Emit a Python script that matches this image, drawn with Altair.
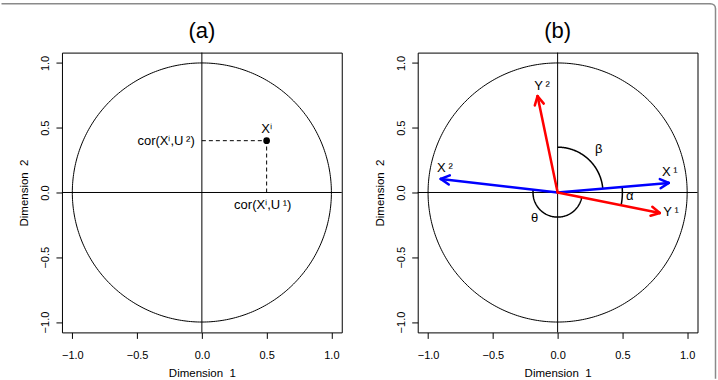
import altair as alt
import numpy as np
import pandas as pd

FONT = "Liberation Sans"

# ---------------- data ----------------
panel_titles = ["(a)", "(b)"]
axis_ticks = [-1.0, -0.5, 0.0, 0.5, 1.0]
domain = [-1.08, 1.08]
circle_radius = [1.0]

# panel (a)
pt_x = [0.5]
pt_y = [0.4]
a_label_text = ["cor(X\u2071,U\u2009\u00b2)", "X\u2071", "cor(X\u2071,U\u2009\u00b9)"]
a_label_x = [-0.055, 0.5, 0.47]
a_label_y = [0.4, 0.49, -0.1]
a_label_align = ["right", "center", "center"]

# panel (b)
arrow_names = ["X1", "X2", "Y1", "Y2"]
arrow_x = [0.858, -0.902, 0.789, -0.155]
arrow_y = [0.074, 0.105, -0.158, 0.744]
arrow_color = ["#0000ff", "#0000ff", "#ff0000", "#ff0000"]

b_label_text = ["X\u2009\u00b9", "X\u2009\u00b2", "Y\u2009\u00b9", "Y\u2009\u00b2", "\u03b1", "\u03b2", "\u03b8"]
b_label_x = [0.866, -0.87, 0.875, -0.12, 0.557, 0.317, -0.178]
b_label_y = [0.16, 0.19, -0.15, 0.82, -0.03, 0.333, -0.2]

arc_names = ["alpha", "beta", "theta"]
arc_radius = [0.5, 0.35, 0.19]

# ---------------- derived geometry ----------------
def circle_df(r, a0, a1, n=240, name=""):
    t = np.linspace(a0, a1, n)
    return pd.DataFrame({"x": r * np.cos(t), "y": r * np.sin(t), "o": np.arange(n), "g": name})

circ = circle_df(circle_radius[0], 0, 2 * np.pi, 361, "circle")

ang = {n: np.arctan2(y, x) for n, x, y in zip(arrow_names, arrow_x, arrow_y)}
arc_spans = {
    "alpha": (ang["Y1"], ang["X1"]),
    "beta": (ang["X1"], np.pi / 2),
    "theta": (ang["X2"], ang["Y1"] + 2 * np.pi),
}
arcs = pd.concat([circle_df(r, *arc_spans[n], 120, n) for n, r in zip(arc_names, arc_radius)])

arrows = pd.DataFrame({"x": 0.0, "y": 0.0, "x2": arrow_x, "y2": arrow_y, "c": arrow_color})
head_len, head_ang = 0.075, np.deg2rad(28)
heads = []
for x, y, c in zip(arrow_x, arrow_y, arrow_color):
    a = np.arctan2(y, x)
    for s in (1, -1):
        b = a + np.pi + s * head_ang
        heads.append({"x": x, "y": y, "x2": x + head_len * np.cos(b), "y2": y + head_len * np.sin(b), "c": c})
heads = pd.DataFrame(heads)

point_df = pd.DataFrame({"x": pt_x, "y": pt_y})
dash_h = pd.DataFrame({"x": [0.0], "x2": pt_x, "y": pt_y, "y2": pt_y})
dash_v = pd.DataFrame({"x": pt_x, "x2": pt_x, "y": [0.0], "y2": pt_y})
a_labels = pd.DataFrame({"x": a_label_x, "y": a_label_y, "t": a_label_text, "al": a_label_align})
b_labels = pd.DataFrame({"x": b_label_x, "y": b_label_y, "t": b_label_text})
one = pd.DataFrame({"k": [0]})

# ---------------- encodings ----------------
scale = alt.Scale(domain=domain, nice=False, zero=False)
common_axis = dict(values=axis_ticks, format=".1f", grid=False, domain=False, ticks=True,
                   tickSize=6, tickColor="black", tickWidth=1, labelFontSize=11, labelColor="black",
                   labelFont=FONT, labelFlush=False, titleFont=FONT, titleFontSize=11.5,
                   titleFontWeight="normal", titleColor="black")
xaxis = alt.Axis(title="Dimension \u00a01", labelPadding=11, titlePadding=7.5, **common_axis)
yaxis = alt.Axis(title="Dimension \u00a02", labelAngle=-90, labelAlign="center", labelBaseline="bottom",
                 labelPadding=5, titlePadding=10, **common_axis)


def X(f="x"):
    return alt.X(f"{f}:Q", scale=scale, axis=xaxis)


def Y(f="y"):
    return alt.Y(f"{f}:Q", scale=scale, axis=yaxis)


def base_layers(title):
    c = alt.Chart(circ).mark_line(color="black", strokeWidth=1).encode(x=X(), y=Y(), order="o:Q")
    vline = alt.Chart(one).mark_rule(color="black", strokeWidth=1).encode(x=alt.datum(0))
    hline = alt.Chart(one).mark_rule(color="black", strokeWidth=1).encode(y=alt.datum(0))
    ttl = alt.Chart(pd.DataFrame({"t": [title]})).mark_text(
        font=FONT, fontSize=22, color="black", baseline="middle", align="center").encode(
        x=alt.datum(0), y=alt.value(-21.5), text="t:N")
    return [c, vline, hline, ttl]


W = H = 280
GRAY = "#8a8a8a"

# panel (a)  (also carries the figure frame: top edge and right edge with rounded corner)
frame_top = alt.Chart(one).mark_rule(color=GRAY, strokeWidth=1.5).encode(
    x=alt.value(-60.5), x2=alt.value(649), y=alt.value(-49))
frame_right = alt.Chart(one).mark_rule(color=GRAY, strokeWidth=1.5).encode(
    x=alt.value(654), y=alt.value(-44), y2=alt.value(326.5))
frame_corner = alt.Chart(one).mark_arc(radius=5, radius2=5, theta=0, theta2=float(np.pi / 2),
                                       stroke=GRAY, strokeWidth=1.5, strokeJoin="round",
                                       fillOpacity=0).encode(
    x=alt.value(649), y=alt.value(-44))

dh = alt.Chart(dash_h).mark_rule(color="black", strokeWidth=1, strokeDash=[4, 3]).encode(
    x=X(), x2="x2:Q", y=Y())
dv = alt.Chart(dash_v).mark_rule(color="black", strokeWidth=1, strokeDash=[4, 3]).encode(
    x=X(), y=Y(), y2="y2:Q")
pt = alt.Chart(point_df).mark_point(filled=True, color="black", size=45, opacity=1).encode(x=X(), y=Y())
alab_r = alt.Chart(a_labels[a_labels["al"] == "right"]).mark_text(
    font=FONT, fontSize=13, color="black", baseline="middle", align="right").encode(x=X(), y=Y(), text="t:N")
alab_c = alt.Chart(a_labels[a_labels["al"] == "center"]).mark_text(
    font=FONT, fontSize=13, color="black", baseline="middle", align="center").encode(x=X(), y=Y(), text="t:N")

panel_a = alt.layer(*base_layers(panel_titles[0]), frame_top, frame_right, frame_corner,
                    dh, dv, pt, alab_r, alab_c).properties(width=W, height=H)

# panel (b)
arc_l = alt.Chart(arcs).mark_line(color="black", strokeWidth=1.5).encode(
    x=X(), y=Y(), order="o:Q", detail="g:N")
arr_l = alt.Chart(arrows).mark_rule(strokeWidth=2.5, strokeCap="round").encode(
    x=X(), y=Y(), x2="x2:Q", y2="y2:Q", color=alt.Color("c:N", scale=None))
head_l = alt.Chart(heads).mark_rule(strokeWidth=2.5, strokeCap="round").encode(
    x=X(), y=Y(), x2="x2:Q", y2="y2:Q", color=alt.Color("c:N", scale=None))
blab = alt.Chart(b_labels).mark_text(font=FONT, fontSize=13, color="black", baseline="middle").encode(
    x=X(), y=Y(), text="t:N")

panel_b = alt.layer(*base_layers(panel_titles[1]), arc_l, arr_l, head_l, blab).properties(width=W, height=H)

chart = alt.hconcat(panel_a, panel_b, spacing=76, bounds="flush").properties(
    padding={"left": 0, "top": 1.5, "right": 0.5, "bottom": 0}, background="white"
).configure_view(stroke="black", strokeWidth=1)

chart.save("out.html", embed_options={"renderer": "svg", "actions": False})
